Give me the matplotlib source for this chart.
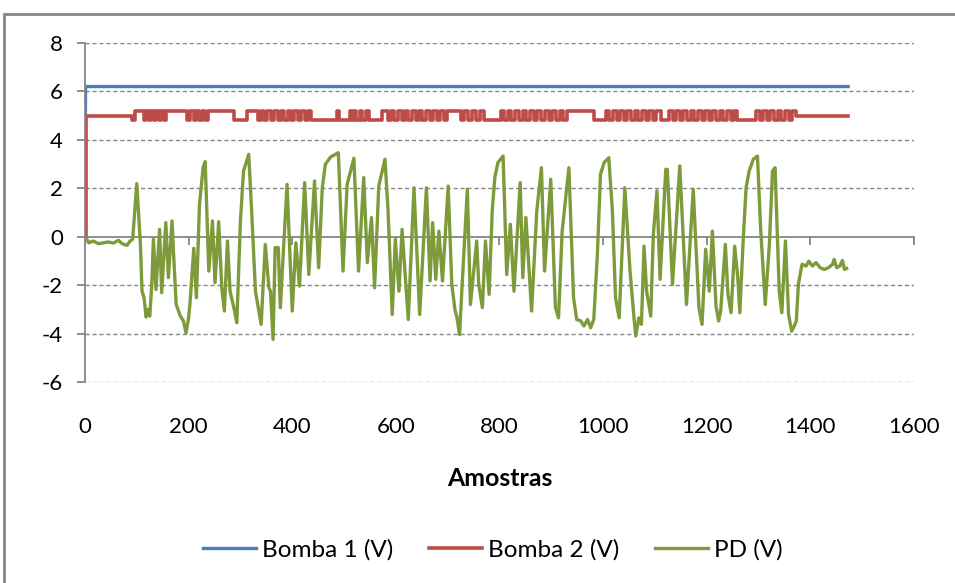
import matplotlib
matplotlib.use("Agg")
import matplotlib.pyplot as plt
from matplotlib.patches import Rectangle

plt.rcParams['font.family'] = ['Lato', 'DejaVu Sans']
plt.rcParams['axes.unicode_minus'] = False

# Bomba 1: liga em 6,2 V logo na primeira amostra
bomba1_x = [0, 1, 1473]
bomba1_v = [0.0, 6.2, 6.2]

# Bomba 2: instantes de troca de nivel (degraus), 10 por linha
bomba2_x = [0, 1, 90, 97,
            113, 117, 123, 127, 133, 137, 143, 147, 153, 157,
            197, 203, 210, 214, 220, 226, 232, 238, 287, 313,
            333, 339, 346, 352, 359, 365, 372, 378, 385, 391,
            398, 404, 411, 417, 424, 430, 437, 487, 491, 512,
            516, 519, 523, 531, 535, 543, 548, 574, 584, 591,
            597, 604, 611, 617, 624, 631, 638, 645, 651, 658,
            665, 672, 679, 686, 692, 699, 725, 732, 740, 747,
            755, 762, 770, 802, 809, 816, 823, 830, 838, 845,
            852, 859, 866, 873, 881, 888, 895, 902, 909, 916,
            923, 931, 983, 1005, 1012, 1019, 1026, 1033, 1040, 1047,
            1054, 1061, 1068, 1075, 1082, 1089, 1096, 1103, 1111, 1127,
            1134, 1141, 1148, 1155, 1162, 1169, 1176, 1183, 1190, 1197,
            1204, 1211, 1218, 1225, 1232, 1239, 1246, 1253, 1259, 1295,
            1302, 1309, 1316, 1323, 1330, 1337, 1344, 1351, 1358, 1365,
            1372, 1473]
bomba2_v = [0.0, 5.0, 4.8, 5.2,
            4.8, 5.2, 4.8, 5.2, 4.8, 5.2, 4.8, 5.2, 4.8, 5.2,
            4.8, 5.2, 4.8, 5.2, 4.8, 5.2, 4.8, 5.2, 4.8, 5.2,
            4.8, 5.2, 4.8, 5.2, 4.8, 5.2, 4.8, 5.2, 4.8, 5.2,
            4.8, 5.2, 4.8, 5.2, 4.8, 5.2, 4.8, 5.2, 4.8, 5.2,
            4.8, 5.2, 4.8, 5.2, 4.8, 5.2, 4.8, 5.2, 4.8, 5.2,
            4.8, 5.2, 4.8, 5.2, 4.8, 5.2, 4.8, 5.2, 4.8, 5.2,
            4.8, 5.2, 4.8, 5.2, 4.8, 5.2, 4.8, 5.2, 4.8, 5.2,
            4.8, 5.2, 4.8, 5.2, 4.8, 5.2, 4.8, 5.2, 4.8, 5.2,
            4.8, 5.2, 4.8, 5.2, 4.8, 5.2, 4.8, 5.2, 4.8, 5.2,
            4.8, 5.2, 4.8, 5.2, 4.8, 5.2, 4.8, 5.2, 4.8, 5.2,
            4.8, 5.2, 4.8, 5.2, 4.8, 5.2, 4.8, 5.2, 4.8, 5.2,
            4.8, 5.2, 4.8, 5.2, 4.8, 5.2, 4.8, 5.2, 4.8, 5.2,
            4.8, 5.2, 4.8, 5.2, 4.8, 5.2, 4.8, 5.2, 4.8, 5.2,
            4.8, 5.2, 4.8, 5.2, 4.8, 5.2, 4.8, 5.2, 4.8, 5.2,
            5.0, 5.0]

# PD: pontos principais do sinal (picos, vales e ruido)
pd_x = [0, 2, 7, 16, 26, 36, 45, 55, 65, 71,
        81, 87, 92, 100, 107, 110, 114, 118, 121, 125,
        129, 132, 137, 144, 148, 156, 161, 168, 171, 176,
        184, 190, 195, 200, 203, 210, 215, 221, 228, 232,
        239, 246, 251, 258, 264, 269, 275, 280, 288, 293,
        300, 306, 316, 322, 329, 335, 340, 348, 355, 358,
        363, 367, 373, 377, 390, 400, 407, 414, 424, 432,
        443, 451, 458, 464, 474, 489, 498, 506, 519, 528,
        538, 545, 553, 559, 567, 579, 585, 593, 599, 606,
        612, 624, 635, 646, 659, 666, 671, 677, 683, 690,
        701, 708, 714, 718, 723, 728, 738, 744, 756, 760,
        767, 773, 780, 786, 791, 797, 807, 814, 821, 828,
        840, 845, 851, 862, 872, 881, 887, 899, 908, 914,
        921, 934, 943, 949, 957, 963, 970, 976, 982, 989,
        995, 1002, 1011, 1018, 1024, 1031, 1042, 1052, 1060, 1063,
        1069, 1074, 1079, 1084, 1092, 1097, 1104, 1110, 1121, 1124,
        1134, 1148, 1161, 1174, 1185, 1191, 1198, 1205, 1211, 1218,
        1223, 1227, 1236, 1241, 1247, 1254, 1260, 1264, 1270, 1276,
        1282, 1290, 1298, 1304, 1313, 1321, 1327, 1332, 1340, 1345,
        1352, 1358, 1364, 1369, 1373, 1377, 1384, 1392, 1397, 1404,
        1411, 1419, 1427, 1435, 1443, 1446, 1451, 1457, 1462, 1466,
        1470]
pd_v = [-0.10, -0.04, -0.25, -0.18, -0.29, -0.25, -0.22, -0.26, -0.15, -0.28,
        -0.36, -0.18, -0.11, 2.19, -0.32, -2.25, -2.52, -3.32, -3.00, -3.28,
        -1.97, -0.11, -2.18, 0.30, -2.31, 0.58, -1.69, 0.65, -0.73, -2.80,
        -3.28, -3.48, -3.97, -3.35, -2.66, -0.48, -2.52, 1.34, 2.85, 3.10,
        -1.42, 0.65, -1.90, 0.62, -2.11, -3.07, -0.18, -2.25, -3.00, -3.55,
        0.65, 2.71, 3.40, 0.92, -2.25, -3.00, -3.62, -0.32, -2.11, -2.25,
        -4.24, -0.45, -0.45, -2.93, 2.16, -3.07, -0.25, -2.04, 2.23, -1.56,
        2.30, -1.28, 2.02, 2.99, 3.29, 3.47, -1.42, 2.16, 3.24, -1.42,
        2.44, -1.07, 0.79, -2.11, 2.09, 3.20, 1.06, -3.21, -0.11, -2.25,
        0.30, -3.42, 2.02, -3.21, 2.02, -1.83, 0.58, -1.76, 0.23, -1.83,
        2.09, -1.97, -3.00, -3.35, -4.04, -1.97, 1.96, -2.80, -0.18, -1.97,
        -2.93, -0.18, -2.38, 1.06, 2.44, 3.06, 3.33, -1.56, 0.51, -2.25,
        2.23, -1.69, 0.79, -3.07, 1.06, 2.85, -1.42, 2.37, -2.93, -3.35,
        0.23, 2.85, -2.52, -3.42, -3.48, -3.69, -3.42, -3.76, -3.42, -0.73,
        2.58, 3.06, 3.26, 1.06, -2.52, -3.35, 2.02, -1.42, -3.42, -4.10,
        -3.35, -3.62, -0.39, -2.25, -3.28, 0.10, 1.89, -1.76, 2.78, 2.78,
        -1.97, 2.92, -2.80, 1.96, -2.93, -3.62, -0.52, -2.25, 0.23, -2.87,
        -3.48, -3.07, -0.32, -2.38, -3.14, -0.39, -1.69, -3.14, -0.32, 2.02,
        2.71, 3.20, 3.33, 0.37, -2.80, -0.32, 2.71, 2.85, -2.25, -3.14,
        -0.18, -3.21, -3.90, -3.69, -3.48, -1.97, -1.14, -1.21, -1.01, -1.21,
        -1.07, -1.28, -1.35, -1.28, -1.14, -0.94, -1.28, -1.21, -0.98, -1.35,
        -1.31]

azul = '#4A7EBB'
vermelho = '#BE4B48'
verde = '#7D9B3B'
cinza = '#868686'

fig = plt.figure(figsize=(9.55, 5.83), dpi=100)
ax = fig.add_axes([0.089, 0.3448, 0.868, 0.5815])

ax.plot(bomba1_x, bomba1_v, color=azul, lw=2.4, label='Bomba 1 (V)')
ax.plot(bomba2_x, bomba2_v, color=vermelho, lw=2.6, drawstyle='steps-post',
        label='Bomba 2 (V)')
ax.plot(pd_x, pd_v, color=verde, lw=2.4, label='PD (V)')

ax.set_xlim(0, 1600)
ax.set_ylim(-6, 8)
ax.set_xticks(range(0, 1601, 200))
ax.set_yticks(range(-6, 9, 2))

# grade tracejada, menos no zero (eixo horizontal)
for yv in [-6, -4, -2, 2, 4, 6, 8]:
    ax.axhline(yv, color=cinza, lw=1, ls=(0, (3, 2)), zorder=0)

for s in ['top', 'right', 'bottom']:
    ax.spines[s].set_visible(False)
ax.spines['left'].set_color(cinza)
ax.spines['left'].set_linewidth(1.3)
ax.tick_params(axis='y', direction='out', length=6, width=1.3, color=cinza,
               labelsize=16, pad=10)
ax.tick_params(axis='x', length=0, labelsize=16, pad=25)

# eixo horizontal cruzando em y = 0
eixo0 = ax.secondary_xaxis(6 / 14)
eixo0.set_xticks(range(0, 1601, 200))
eixo0.tick_params(direction='out', length=6, width=1.3, color=cinza,
                  labelbottom=False)
eixo0.set_xticklabels([])
eixo0.spines['bottom'].set_color(cinza)
eixo0.spines['bottom'].set_linewidth(1.3)

ax.set_xlabel('Amostras', fontsize=17.9, fontweight='bold', labelpad=22)

ax.legend(loc='center', bbox_to_anchor=(0.492, -0.4956), ncol=3,
          frameon=False, fontsize=17.5, handlelength=2.2, columnspacing=1.45,
          handletextpad=0.25)

fig.patches.append(Rectangle((4 / 955, -0.05), 1.0, 1 - 14 / 583 + 0.05,
                             transform=fig.transFigure, fill=False,
                             edgecolor=cinza, lw=2))

fig.savefig('out.png', dpi=100)
